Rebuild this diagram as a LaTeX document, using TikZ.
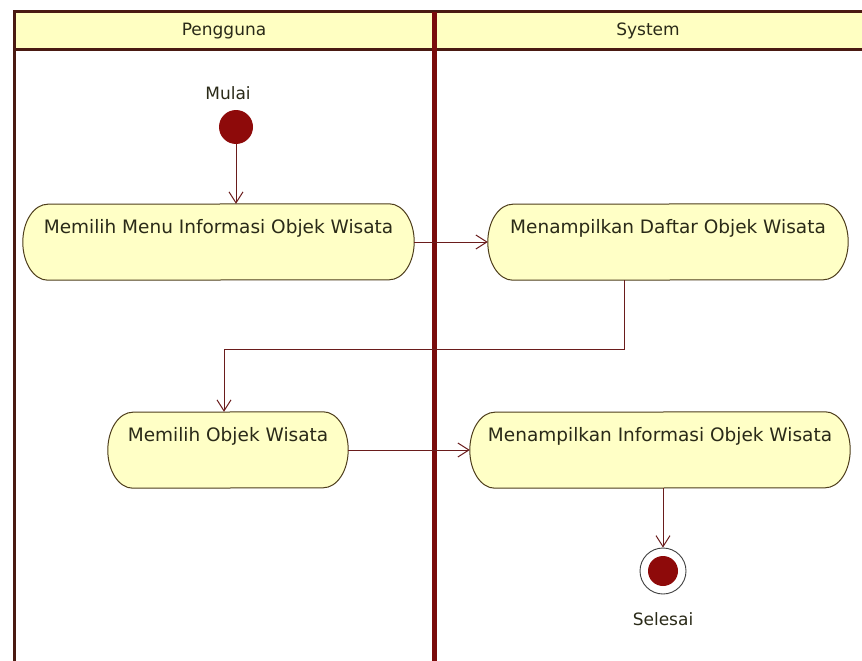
\documentclass[tikz,border=0pt]{standalone}
\usepackage{fontspec}
\setmainfont{DejaVu Sans}
\usetikzlibrary{arrows.meta,calc,backgrounds}
\definecolor{laneline}{HTML}{4A1A12}
\definecolor{divline}{HTML}{7A0C0C}
\definecolor{headfill}{HTML}{FFFFC2}
\definecolor{actfill}{HTML}{FFFFC6}
\definecolor{actline}{HTML}{4E3E1C}
\definecolor{flowline}{HTML}{6A1C1C}
\definecolor{dotfill}{HTML}{8E0A0A}
\definecolor{txt}{HTML}{2A2A18}
\tikzset{
  activity/.style={rectangle, inner xsep=0pt, inner ysep=0pt, text=txt,
    text height=29pt, text depth=47pt, font=\fontsize{18.5}{21}\selectfont},
  actshape/.style={draw=actline, line width=1pt, fill=actfill},
  flow/.style={draw=flowline, line width=1pt,
    -{Straight Barb[length=11pt,width=14pt,line width=1pt]}},
  lbl/.style={text=txt, font=\fontsize{17}{20}\selectfont, inner sep=0pt},
}
% outline of an activity: straight top and bottom, elliptic ends
\newcommand{\actoutline}[1]{%
  \path[actshape] ($(#1.north east)+(-25,0)$)
    arc[start angle=-90, end angle=90, x radius=25, y radius=38]
    -- ($(#1.south west)+(25,0)$)
    arc[start angle=90, end angle=270, x radius=25, y radius=38]
    -- cycle;}
\begin{document}
\begin{tikzpicture}[x=1pt,y=-1pt]
\useasboundingbox (0,0) rectangle (862,661);
\begin{scope}[on background layer]
  \fill[white] (0,0) rectangle (862,661);
  % swimlane header band
  \fill[headfill] (14,12) rectangle (862,50);
\end{scope}
\draw[laneline, line width=3pt] (14,661) -- (14,12) -- (862,12);
\draw[laneline, line width=3pt] (14,50) -- (862,50);
\draw[divline, line width=5pt] (434.5,12) -- (434.5,661);
\node[lbl] (lane1) at (224,31) {Pengguna};
\node[lbl] (lane2) at (648,31) {System};

% start and end markers
\node[lbl] (mulai) at (228,93) {Mulai};
\node[circle, fill=dotfill, minimum size=34pt, inner sep=0pt] (start) at (236,127) {};
\node[circle, draw=black!75, line width=0.9pt, minimum size=46pt, inner sep=0pt] (end) at (663,571) {};
\node[circle, fill=dotfill, minimum size=30pt, inner sep=0pt] (endcore) at (end.center) {};
\node[lbl] (selesai) at (663,619) {Selesai};

% activities
\node[activity, minimum width=391pt] (A) at (218.5,242) {Memilih Menu Informasi Objek Wisata};
\node[activity, minimum width=360pt] (B) at (668,242) {Menampilkan Daftar Objek Wisata};
\node[activity, minimum width=240pt] (C) at (228,450) {Memilih Objek Wisata};
\node[activity, minimum width=380pt] (D) at (660,450) {Menampilkan Informasi Objek Wisata};
\begin{scope}[on background layer]
  \actoutline{A}\actoutline{B}\actoutline{C}\actoutline{D}
\end{scope}

% control flow
\coordinate (bendR) at (624,349);
\coordinate (bendL) at (224,349);
\draw[flow] (start) -- (start |- A.north);
\draw[flow] (A.east) -- (B.west);
\draw[flow] (B.south -| bendR) -- (bendR) -- (bendL) -- (bendL |- C.north);
\draw[flow] (C.east) -- (D.west);
\draw[flow] (D.south -| end) -- (end.north);
\end{tikzpicture}
\end{document}
